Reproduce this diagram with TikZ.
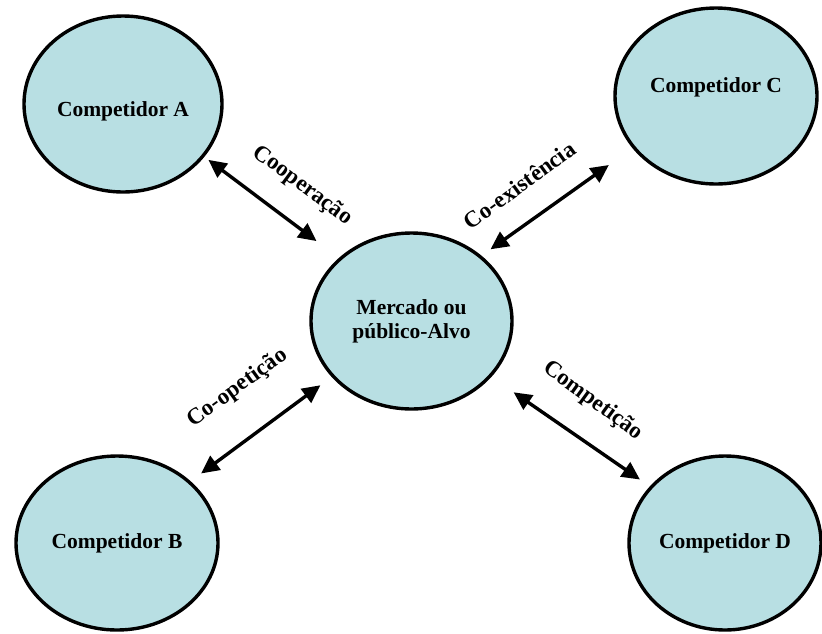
\documentclass[tikz,border=0pt]{standalone}
\usepackage{fontspec}
\setmainfont{Liberation Serif}
\usetikzlibrary{shapes.geometric,arrows.meta}
\definecolor{bubble}{RGB}{184,223,227}
\begin{document}
\begin{tikzpicture}[x=1pt,y=-1pt,
  actor/.style={ellipse, draw=black, line width=3.4pt, fill=bubble, inner sep=0pt,
    font=\fontsize{21.5}{24.3}\selectfont\bfseries, align=center},
  link/.style={line width=3.4pt,
    {Triangle[length=18pt,width=17pt]}-{Triangle[length=18pt,width=17pt]}},
  rel/.style={font=\fontsize{23}{26}\selectfont\bfseries, inner sep=0pt}]
\useasboundingbox (0,0) rectangle (822,633);

% the market in the middle and the four competitors around it
\node[actor, minimum width=201pt, minimum height=176pt] (M) at (411.5,321) {Mercado ou\\público-Alvo};
\node[actor, minimum width=198pt, minimum height=176pt] (A) at (123,104)
  {\raisebox{-7pt}[\height][\depth]{Competidor A}};
\node[actor, minimum width=202pt, minimum height=176pt] (C) at (716,96)
  {\raisebox{9pt}[\height][\depth]{Competidor C}};
\node[actor, minimum width=202pt, minimum height=174pt] (B) at (117,543) {Competidor B};
\node[actor, minimum width=192pt, minimum height=174pt] (D) at (725,543) {Competidor D};

% two-headed relations
\draw[link, shorten <=5pt, shorten >=28pt] (A.-33.7) -- (M.139.1);
\draw[link, shorten <=29pt, shorten >=11pt] (C.-148.6) -- (M.43.7);
\draw[link, shorten <=13pt, shorten >=14pt] (B.40.1) -- (M.-145.5);
\draw[link, shorten <=27pt, shorten >=12pt] (M.-35) -- (D.143.9);

% relation names
\node[rel, rotate=-36.5] (lcoop) at (302.5,185.5) {Cooperação};
\node[rel, rotate=36] (lcoex) at (519.5,185) {Co-existência};
\node[rel, rotate=36] (lcoop2) at (237.5,388) {Co-opetição};
\node[rel, rotate=-36] (lcomp) at (593,401) {Competição};
\end{tikzpicture}
\end{document}
